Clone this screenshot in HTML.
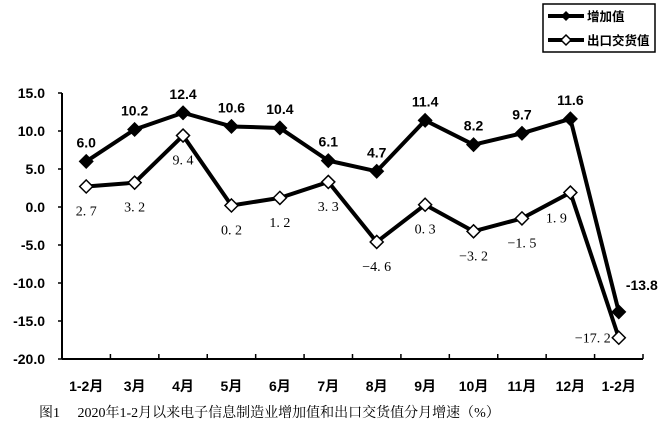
<!DOCTYPE html>
<html><head><meta charset="utf-8"><style>
body{margin:0;background:#fff;width:663px;height:429px;overflow:hidden}
svg{display:block}
.b{font-family:"Liberation Sans","Noto Sans CJK SC",sans-serif;font-weight:bold;font-size:14px}
.s{font-family:"Liberation Serif","Noto Serif CJK SC",serif;font-size:14px}
</style></head><body>
<svg id="c" width="663" height="429" xmlns="http://www.w3.org/2000/svg">
<rect x="543" y="4" width="112" height="48" fill="#fff" stroke="#000" stroke-width="1.5"/>
<g>
<line x1="548" y1="16" x2="584" y2="16" stroke="#000" stroke-width="4"/>
<path d="M566 11 L571 16 L566 21 L561 16Z" fill="#000"/>
<text x="587" y="21" class="b" style="font-size:12.5px">增加值</text></g>
<g>
<line x1="548" y1="40" x2="584" y2="40" stroke="#000" stroke-width="4"/>
<path d="M566 35 L571 40 L566 45 L561 40Z" fill="#fff" stroke="#000" stroke-width="1.5"/>
<text x="587" y="45" class="b" style="font-size:12.5px">出口交货值</text></g>
<text x="39" y="417" class="s">图1　 2020年1-2月以来电子信息制造业增加值和出口交货值分月增速（%）</text>
</svg>
<script>
const categories=["1-2月","3月","4月","5月","6月","7月","8月","9月","10月","11月","12月","1-2月"];
const addedValue=[6.0,10.2,12.4,10.6,10.4,6.1,4.7,11.4,8.2,9.7,11.6,-13.8];
const exportValue=[2.7,3.2,9.4,0.2,1.2,3.3,-4.6,0.3,-3.2,-1.5,1.9,-17.2];
const yTicks=[15,10,5,0,-5,-10,-15,-20];
const NS="http://www.w3.org/2000/svg",svg=document.getElementById("c");
const x0=62,x1=643,yTop=93,yBot=359,yMax=15,yMin=-20;
const step=(x1-x0)/categories.length;
const X=i=>x0+step*(i+0.5);
const Y=v=>yTop+(yMax-v)/(yMax-yMin)*(yBot-yTop);
function mk(t,a,txt){const e=document.createElementNS(NS,t);for(const k in a)e.setAttribute(k,a[k]);if(txt!=null)e.textContent=txt;svg.appendChild(e);return e;}
let e=mk("line",{x1:x0,y1:yTop,x2:x0,y2:yBot,stroke:"#000","stroke-width":2});


e=mk("line",{x1:x0,y1:yBot,x2:x1,y2:yBot,stroke:"#000","stroke-width":2});


yTicks.forEach(v=>{
 mk("line",{x1:x0-4,y1:Y(v),x2:x0,y2:Y(v),stroke:"#000","stroke-width":1.5});
 const t=mk("text",{x:45,y:Y(v)+5,"text-anchor":"end",class:"b"},v.toFixed(1));
 
 
});
for(let k=1;k<=categories.length;k++)mk("line",{x1:x0+step*k,y1:yBot,x2:x0+step*k,y2:yBot-5,stroke:"#000","stroke-width":1.5});
categories.forEach((c,i)=>{
 const t=mk("text",{x:X(i),y:391,"text-anchor":"middle",class:"b"},c);
 
 
});
function series(vals,name,fill){
 const p=mk("polyline",{points:vals.map((v,i)=>X(i)+","+Y(v)).join(" "),fill:"none",stroke:"#000","stroke-width":4,"stroke-linejoin":"round"});
 
 
 vals.forEach((v,i)=>{const x=X(i),y=Y(v),r=6.5;
  const m=mk("path",{d:`M${x} ${y-r}L${x+r} ${y}L${x} ${y+r}L${x-r} ${y}Z`,fill:fill,stroke:"#000","stroke-width":1.5});
  
  
 });
}
series(exportValue,"export-value","#fff");
series(addedValue,"added-value","#000");
addedValue.forEach((v,i)=>{
 const last=i===categories.length-1;
 const t=mk("text",{x:X(i)+(last?23:0),y:Y(v)+(last?-22:-14),"text-anchor":"middle",class:"b"},v.toFixed(1));
 
 
});
exportValue.forEach((v,i)=>{
 let dx=0,dy=29;const n=categories.length;
 if(i===n-2){dx=-14;dy=30;}
 if(i===n-1){dx=-26;dy=5;}
 const t=mk("text",{x:X(i)+dx,y:Y(v)+dy,"text-anchor":"middle",class:"s","font-size":"15"},v.toFixed(1).replace(".",". ").replace("-","−"));
 
 
});
</script>
</body></html>
